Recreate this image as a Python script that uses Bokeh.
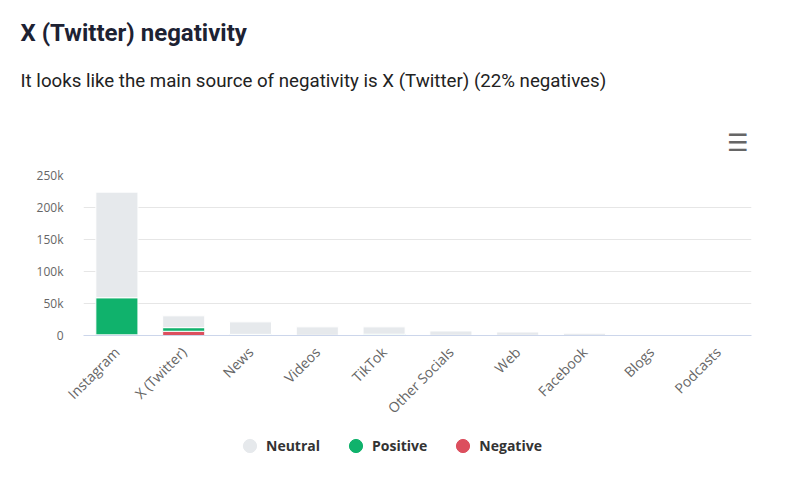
from bokeh.plotting import figure
from bokeh.layouts import column
from bokeh.models import ColumnDataSource, Legend, LegendItem, FixedTicker, Range1d, Title
from bokeh.embed import file_html
from bokeh.resources import INLINE

title_text = "X (Twitter) negativity"
subtitle_text = "It looks like the main source of negativity is X (Twitter) (22% negatives)"
menu_text = "\u2630"

categories = ["Instagram", "X (Twitter)", "News", "Videos", "TikTok",
              "Other Socials", "Web", "Facebook", "Blogs", "Podcasts"]
neutral = [165000, 18400, 19500, 13200, 11500, 6800, 5200, 3400, 400, 200]
positive = [58000, 5700, 1500, 200, 1800, 200, 200, 100, 50, 20]
negative = [1000, 6600, 300, 100, 200, 100, 100, 50, 20, 10]
series_names = ["Neutral", "Positive", "Negative"]
series_colors = ["#e6e9ec", "#10b26c", "#dc4f5e"]
y_ticks = [0, 50000, 100000, 150000, 200000, 250000]
y_tick_labels = ["0", "50k", "100k", "150k", "200k", "250k"]

src = ColumnDataSource(dict(cat=categories, Neutral=neutral, Positive=positive, Negative=negative))

p = figure(width=790, height=426, x_range=categories, y_range=Range1d(0, 250000),
           output_backend="svg", toolbar_location=None,
           min_border_left=83, min_border_right=39, min_border_top=175, min_border_bottom=91)
p.outline_line_color = None

# outermost: main title
p.title.text = title_text
p.title.align = "left"
p.title.offset = -63
p.title.standoff = 7
p.title.text_font = "Roboto"
p.title.text_font_size = "24px"
p.title.text_font_style = "bold"
p.title.text_color = "#1d2233"

# closest to the plot: menu icon, then subtitle
p.add_layout(Title(text=menu_text, align="right", offset=3, standoff=37,
                   text_font="DejaVu Sans", text_font_size="24px", text_font_style="bold",
                   text_color="#666666"), "above")
p.add_layout(Title(text=subtitle_text, align="left", offset=-63, standoff=34,
                   text_font="Roboto", text_font_size="18.7px", text_font_style="normal",
                   text_color="#222222"), "above")

p.xgrid.grid_line_color = None
p.ygrid.grid_line_color = "#e6e6e6"
p.ygrid.grid_line_width = 1

p.yaxis.ticker = FixedTicker(ticks=y_ticks)
p.yaxis.major_label_overrides = {t: l for t, l in zip(y_ticks, y_tick_labels)}
p.yaxis.axis_line_color = None
p.yaxis.major_tick_line_color = None
p.yaxis.minor_tick_line_color = None
p.yaxis.major_label_standoff = 14
p.yaxis.major_label_text_font = "Open Sans"
p.yaxis.major_label_text_font_size = "12px"
p.yaxis.major_label_text_color = "#666666"

p.xaxis.axis_line_color = "#ccd6eb"
p.xaxis.major_tick_line_color = None
p.xaxis.minor_tick_line_color = None
p.xaxis.major_label_orientation = 0.785398
p.xaxis.major_label_standoff = 8
p.xaxis.major_label_text_font = "Open Sans"
p.xaxis.major_label_text_font_size = "14px"
p.xaxis.major_label_text_color = "#666666"

p.vbar_stack(["Negative", "Positive", "Neutral"], x="cat", width=0.63,
             color=[series_colors[2], series_colors[1], series_colors[0]],
             line_color="white", line_width=1, source=src)

# ---------- legend strip ----------
lg = figure(width=790, height=74, x_range=Range1d(0, 1), y_range=Range1d(0, 1),
            x_axis_type=None, y_axis_type=None, output_backend="svg",
            toolbar_location=None, min_border=0)
lg.outline_line_color = None
lg.grid.visible = False
items = []
for name, col in zip(series_names, series_colors):
    # legend proxy marker, parked outside the visible range
    r = lg.scatter(x=[-1], y=[-1], size=13, marker="circle", fill_color=col, line_color=col)
    items.append(LegendItem(label=name, renderers=[r]))

legend = Legend(items=items, location=(150, 38), orientation="horizontal",
                glyph_width=33, glyph_height=33, label_standoff=0, spacing=19,
                padding=0, margin=0, border_line_color=None, background_fill_alpha=0,
                label_text_font="Open Sans", label_text_font_style="bold",
                label_text_font_size="14px", label_text_color="#333333")
lg.add_layout(legend)

layout = column(p, lg, spacing=0)
open("out.html", "w").write(file_html(layout, INLINE))
